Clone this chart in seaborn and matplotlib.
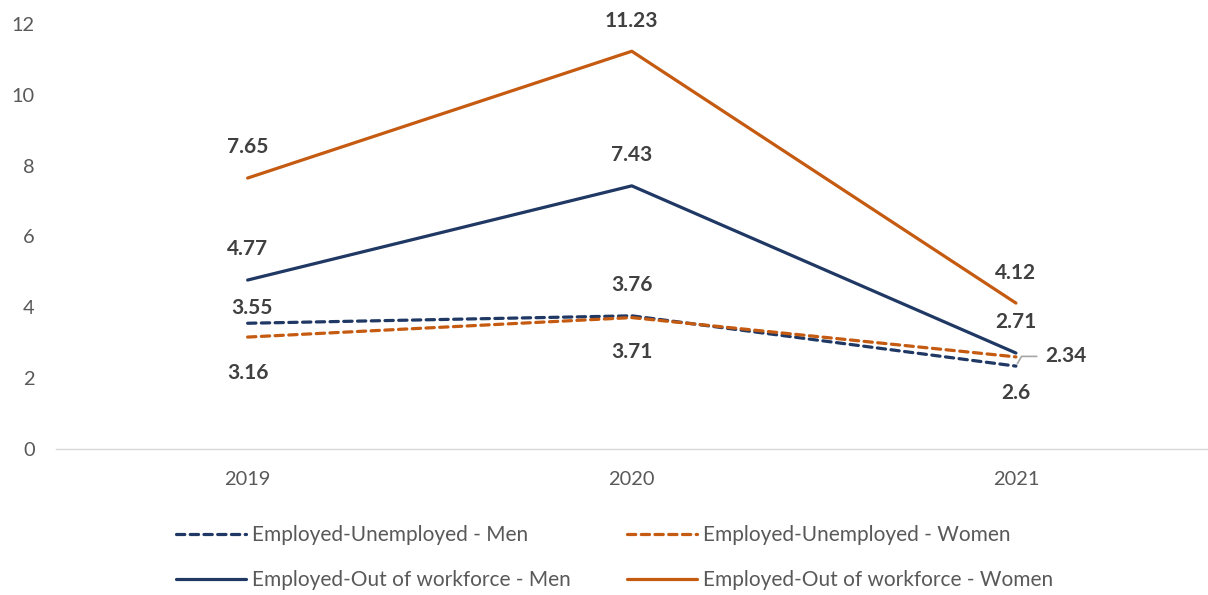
import matplotlib
matplotlib.use("Agg")
import matplotlib.pyplot as plt
from matplotlib.lines import Line2D
import seaborn as sns
import pandas as pd

years = ["2019", "2020", "2021"]
eu_men = [3.55, 3.76, 2.34]
eu_women = [3.16, 3.71, 2.6]
eo_men = [4.77, 7.43, 2.71]
eo_women = [7.65, 11.23, 4.12]

series_names = [
    "Employed-Unemployed - Men",
    "Employed-Unemployed - Women",
    "Employed-Out of workforce - Men",
    "Employed-Out of workforce - Women",
]
series_values = [eu_men, eu_women, eo_men, eo_women]

NAVY = "#203864"
ORANGE = "#C55A11"
colors = [NAVY, ORANGE, NAVY, ORANGE]
dashed = [True, True, False, False]

# label offsets in points (dx, dy) for each series / year
label_offsets = [
    [(3, 11), (0, 22), (36, 7)],
    [(0, -26), (0, -25), (0, -26)],
    [(0, 22), (0, 22), (0, 22)],
    [(0, 22), (0, 22), (0, 22)],
]

sns.set_theme(style="white")
plt.rcParams["font.family"] = ["Lato", "DejaVu Sans"]

fig = plt.figure(figsize=(12.08, 5.95), dpi=100)
ax = fig.add_axes([0.046, 0.2454, 0.954, 0.7143])

x_pos = list(range(len(years)))
handles = []
for name, vals, col, dsh in zip(series_names, series_values, colors, dashed):
    df = pd.DataFrame({"x": x_pos, "y": vals})
    sns.lineplot(data=df, x="x", y="y", ax=ax, color=col, lw=2.3, legend=False)
    ln = ax.lines[-1]
    if dsh:
        ln.set_dashes((2.6, 1.7))
        ln.set_dash_capstyle("round")
    h = Line2D([], [], color=col, lw=2.3)
    if dsh:
        h.set_dashes((2.6, 1.7))
        h.set_dash_capstyle("round")
    handles.append(h)

LABEL_COLOR = "#404040"
for vals, offs in zip(series_values, label_offsets):
    for xi, (v, off) in enumerate(zip(vals, offs)):
        ax.annotate(f"{v:g}", (xi, v), xytext=off, textcoords="offset points",
                    ha="center", va="center", fontsize=15, fontweight="bold",
                    color=LABEL_COLOR)

# leader line for the 2021 men's unemployment label
ax.annotate("", xy=(2, eu_men[2]), xytext=(15, 7), textcoords="offset points",
            arrowprops=dict(arrowstyle="-", color="#A6A6A6", lw=1.2,
                            shrinkA=0, shrinkB=2,
                            connectionstyle="angle,angleA=0,angleB=60,rad=0"))

ax.set_xlim(-0.5, 2.5)
ax.set_ylim(0, 12)
ax.set_yticks(range(0, 13, 2))
ax.set_xticks(x_pos)
ax.set_xticklabels(years)
ax.set_xlabel("")
ax.set_ylabel("")
ax.tick_params(axis="both", colors="#595959", labelsize=14.4, length=0)
ax.tick_params(axis="x", pad=16)
ax.tick_params(axis="y", pad=15)
for s in ["top", "right", "left"]:
    ax.spines[s].set_visible(False)
ax.spines["bottom"].set_color("#D9D9D9")
ax.spines["bottom"].set_linewidth(1)
ax.grid(False)

order = [0, 2, 1, 3]
leg = fig.legend([handles[i] for i in order], [series_names[i] for i in order],
                 ncol=2, loc="lower left", bbox_to_anchor=(0.139, -0.006),
                 frameon=False, fontsize=15, handlelength=3.36,
                 handletextpad=0.28, columnspacing=2.7, labelspacing=1.2,
                 borderaxespad=0.0)
for t in leg.get_texts():
    t.set_color("#595959")

fig.savefig("out.png", dpi=100)
